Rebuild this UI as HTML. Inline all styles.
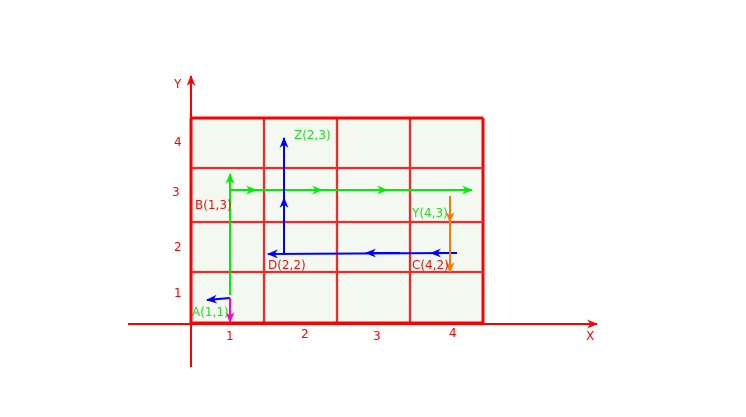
<!DOCTYPE html>
<html><head><meta charset="utf-8"><style>
html,body{margin:0;padding:0;background:#fff;}
svg{display:block;font-family:"DejaVu Sans","Liberation Sans",sans-serif;}
</style></head><body>
<svg id="c" width="746" height="417" viewBox="0 0 746 417">
<defs>
<marker id="ar" viewBox="0 0 10 10" refX="9" refY="5" markerWidth="11" markerHeight="11" orient="auto" markerUnits="userSpaceOnUse"><path d="M0,1 L10,5 L0,9 L3,5 z" fill="context-stroke"/></marker>
</defs>
<g id="grid"></g>
<g id="axes"></g>
<g id="paths"></g>
<g id="labels"></g>
</svg>
<script>
const gridX=[191,264,337,410,483];
const gridY=[118,168,222,272,323];
const xTicks=[["1",230,340],["2",305,338],["3",377,340],["4",453,337]];
const yTicks=[["4",178,146],["3",176,196],["2",178,251],["1",178,297]];
const arrows=[
 {c:"#00ee00",p:[[230,295],[230,174]],mid:[]},
 {c:"#00ee00",p:[[230,190],[472,190]],mid:[[230,190,256,190],[290,190,322,190],[355,190,387,190]]},
 {c:"#0000ff",p:[[284,253],[284,138]],mid:[[284,230,284,198]]},
 {c:"#0000ff",p:[[457,253],[268,254]],mid:[[457,253,431,253],[400,253,366,253]]},
 {c:"#ff7700",p:[[450,196],[450,272]],mid:[[450,196,450,222]]},
 {c:"#0000ff",p:[[230,298],[207,300]],mid:[]},
 {c:"#ff00cc",p:[[230,298],[230,322]],mid:[]}
];
const pointLabels=[["Z(2,3)",294,139,"#22dd22"],["B(1,3)",195,209,"#ee1111"],["Y(4,3)",412,217,"#22dd22"],["D(2,2)",268,269,"#ee1111"],["C(4,2)",412,269,"#ee1111"],["A(1,1)",192,316,"#22dd22"]];
const NS="http://www.w3.org/2000/svg";
function mk(t,a,par){const e=document.createElementNS(NS,t);for(const k in a)e.setAttribute(k,a[k]);par.appendChild(e);return e;}
const G=document.getElementById('grid'),A=document.getElementById('axes'),P=document.getElementById('paths'),L=document.getElementById('labels');
const bg=mk('rect',{x:gridX[0],y:gridY[0],width:gridX[4]-gridX[0],height:gridY[4]-gridY[0],fill:"#f3f8f1"},G);

gridX.forEach((x,i)=>{const l=mk('line',{x1:x,y1:gridY[0],x2:x,y2:gridY[4],stroke:(i==0||i==4)?"#ff0000":"#f02a2a","stroke-width":(i==0||i==4)?3:2.3},G);
});
gridY.forEach((y,i)=>{const l=mk('line',{x1:gridX[0],y1:y,x2:gridX[4],y2:y,stroke:(i==0||i==4)?"#ff0000":"#f02a2a","stroke-width":(i==0||i==4)?3:2.3},G);
});
const xa=mk('line',{x1:128,y1:324,x2:597,y2:324,stroke:"#ff0000","stroke-width":2,"marker-end":"url(#ar)"},A);

const ya=mk('line',{x1:191,y1:367,x2:191,y2:76,stroke:"#ff0000","stroke-width":2,"marker-end":"url(#ar)"},A);

function txt(s,x,y,c,par,name){const t=mk('text',{x:x,y:y,fill:c,"font-size":12},par);t.textContent=s;return t;}
txt("X",586,340,"#ff0000",A,'x-axis-title');txt("Y",174,88,"#ff0000",A,'y-axis-title');
xTicks.forEach(t=>txt(t[0],t[1]-4,t[2],"#ff0000",A,'x-tick-label'));
yTicks.forEach(t=>txt(t[0],t[1]-4,t[2],"#ff0000",A,'y-tick-label'));
arrows.forEach(a=>{const l=mk('line',{x1:a.p[0][0],y1:a.p[0][1],x2:a.p[1][0],y2:a.p[1][1],stroke:a.c,"stroke-width":2,"marker-end":"url(#ar)"},P);

a.mid.forEach(m=>{const s=mk('line',{x1:m[0],y1:m[1],x2:m[2],y2:m[3],stroke:a.c,"stroke-width":2,"marker-end":"url(#ar)"},P);
});});
pointLabels.forEach(p=>txt(p[0],p[1],p[2],p[3],L,'point-label'));
</script>
</body></html>
